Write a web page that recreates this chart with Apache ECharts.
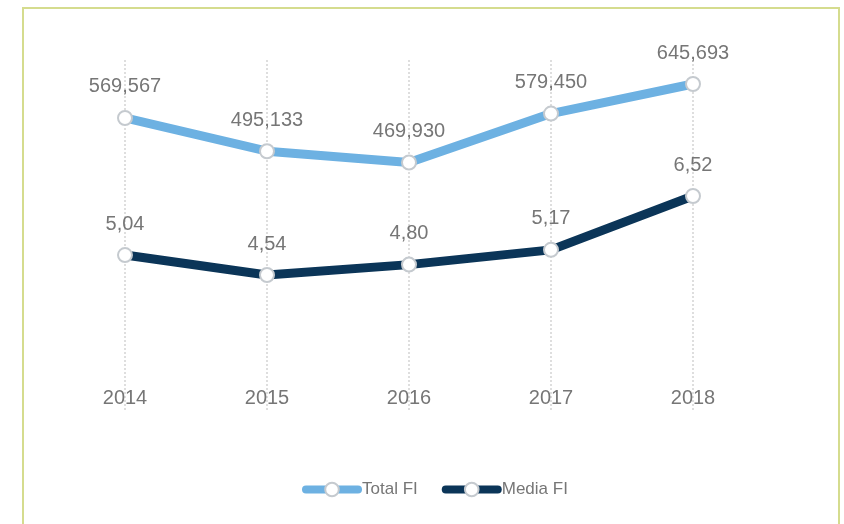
<!DOCTYPE html>
<html>
<head>
<meta charset="utf-8">
<script src="https://cdn.jsdelivr.net/npm/echarts@6/dist/echarts.min.js"></script>
<style>
html,body{margin:0;padding:0;background:#fff;}
#main{width:844px;height:524px;}
</style>
</head>
<body>
<div id="main"></div>
<script>
var categories = ['2014', '2015', '2016', '2017', '2018'];
var totalFI = [569567, 495133, 469930, 579450, 645693];
var mediaFI = [5.04, 4.54, 4.80, 5.17, 6.52];
var seriesNames = ['Total FI', 'Media FI'];

var chart = echarts.init(document.getElementById('main'));
var font = '"Liberation Sans", Arial, sans-serif';
var grey = '#767676';
var sym = { color: '#ffffff', borderColor: '#c5cacf', borderWidth: 2 };

chart.setOption({
  animation: false,
  backgroundColor: '#ffffff',
  textStyle: { fontFamily: font },
  graphic: [{
    type: 'rect',
    shape: { x: 23, y: 8, width: 816, height: 600 },
    style: { fill: 'none', stroke: '#d5dc8e', lineWidth: 2 },
    silent: true
  }],
  grid: { left: 125, right: 151, top: 60, bottom: 112, containLabel: false },
  legend: {
    top: 481,
    left: 302,
    itemWidth: 52,
    itemHeight: 17,
    itemGap: 24,
    padding: 0,
    lineStyle: { width: 8, cap: 'round' },
    textStyle: { color: grey, fontSize: 17, fontFamily: font, padding: [0, 0, 0, -1] },
    data: seriesNames
  },
  xAxis: {
    type: 'category',
    data: categories,
    boundaryGap: false,
    axisLine: { show: false },
    axisTick: { show: false },
    axisLabel: { inside: true, margin: 4, color: grey, fontSize: 20, fontFamily: font },
    splitLine: { show: true, lineStyle: { color: '#d3d3d3', type: [2, 2], width: 1.5 } }
  },
  yAxis: [
    { type: 'value', min: -88800, max: 699400, show: false, splitLine: { show: false } },
    { type: 'value', min: 1.105, max: 9.93, show: false, splitLine: { show: false } }
  ],
  series: [
    {
      name: seriesNames[0],
      type: 'line',
      yAxisIndex: 0,
      data: totalFI,
      symbol: 'circle',
      symbolSize: 14,
      lineStyle: { color: '#6db1e2', width: 9 },
      itemStyle: sym,
      color: '#6db1e2',
      label: {
        show: true, position: 'top', distance: 13,
        color: grey, fontSize: 20, fontFamily: font,
        formatter: function (p) { return p.value.toLocaleString('en-US'); }
      }
    },
    {
      name: seriesNames[1],
      type: 'line',
      yAxisIndex: 1,
      data: mediaFI,
      symbol: 'circle',
      symbolSize: 14,
      lineStyle: { color: '#0b3558', width: 9 },
      itemStyle: sym,
      color: '#0b3558',
      label: {
        show: true, position: 'top', distance: 13,
        color: grey, fontSize: 20, fontFamily: font,
        formatter: function (p) { return p.value.toFixed(2).replace('.', ','); }
      }
    }
  ]
});
</script>
</body>
</html>
